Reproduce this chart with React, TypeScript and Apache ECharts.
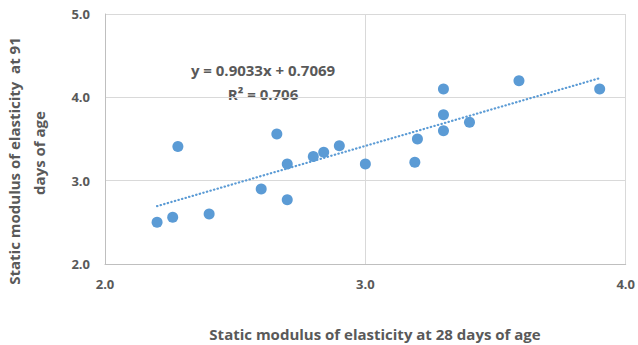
import React, { useEffect, useRef } from "react";
import * as echarts from "echarts";

const xValues = [2.2, 2.26, 2.28, 2.4, 2.6, 2.66, 2.7, 2.7, 2.8, 2.84, 2.9, 3.0, 3.19, 3.2, 3.3, 3.3, 3.3, 3.4, 3.59, 3.9];
const yValues = [2.5, 2.56, 3.41, 2.6, 2.9, 3.56, 3.2, 2.77, 3.29, 3.34, 3.42, 3.2, 3.22, 3.5, 4.1, 3.79, 3.6, 3.7, 4.2, 4.1];
const trendSlope = 0.9033;
const trendIntercept = 0.7069;
const equationText = "y = 0.9033x + 0.7069";
const r2Text = "R² = 0.706";
const xAxisTitle = "Static modulus of elasticity at 28 days of age";
const yAxisTitleLine1 = "Static modulus of elasticity  at 91";
const yAxisTitleLine2 = "days of age";

const FONT = "'Open Sans', 'Noto Sans', sans-serif";
const TEXT = "#595959";
const BLUE = "#5B9BD5";

export default function App() {
  const ref = useRef<HTMLDivElement>(null);
  useEffect(() => {
    if (!ref.current) return;
    const chart = echarts.init(ref.current, null, { renderer: "svg" });
    const points = xValues.map((x, i) => [x, yValues[i]]);
    const xMin = Math.min(...xValues);
    const xMax = Math.max(...xValues);
    const trend = [
      [xMin, trendSlope * xMin + trendIntercept],
      [xMax, trendSlope * xMax + trendIntercept],
    ];
    const titleFont = `bold 15px ${FONT}`;
    chart.setOption({
      animation: false,
      backgroundColor: "#ffffff",
      grid: { left: 105, right: 12, top: 14, bottom: 81, containLabel: false },
      xAxis: {
        type: "value",
        min: 2,
        max: 4,
        interval: 1,
        axisLine: { show: true, lineStyle: { color: "#bfbfbf", width: 1 } },
        axisTick: { show: false },
        splitLine: { show: true, lineStyle: { color: "#d9d9d9", width: 1 } },
        axisLabel: {
          color: TEXT,
          fontFamily: FONT,
          fontWeight: "bold",
          fontSize: 13,
          margin: 13,
          formatter: (v: number) => v.toFixed(1),
        },
      },
      yAxis: {
        type: "value",
        min: 2,
        max: 5,
        interval: 1,
        axisLine: { show: true, lineStyle: { color: "#bfbfbf", width: 1 } },
        axisTick: { show: false },
        splitLine: { show: true, lineStyle: { color: "#d9d9d9", width: 1 } },
        axisLabel: {
          color: TEXT,
          fontFamily: FONT,
          fontWeight: "bold",
          fontSize: 13,
          margin: 15,
          formatter: (v: number) => v.toFixed(1),
        },
      },
      series: [
        {
          type: "line",
          data: trend,
          symbol: "none",
          lineStyle: { color: BLUE, width: 2.2, type: [0.4, 3.3], cap: "round" },
          z: 1,
        },
        {
          type: "scatter",
          data: points,
          symbolSize: 11,
          itemStyle: { color: BLUE, opacity: 1 },
          z: 2,
        },
      ],
      graphic: [
        {
          type: "text",
          x: 263,
          y: 70,
          style: {
            text: equationText,
            fill: TEXT,
            font: titleFont,
            textAlign: "center",
            textVerticalAlign: "middle",
          },
        },
        {
          type: "text",
          x: 263,
          y: 94,
          style: {
            text: r2Text,
            fill: TEXT,
            font: titleFont,
            textAlign: "center",
            textVerticalAlign: "middle",
          },
        },
        {
          type: "text",
          x: 375,
          y: 334,
          style: {
            text: xAxisTitle,
            fill: TEXT,
            font: titleFont,
            textAlign: "center",
            textVerticalAlign: "middle",
          },
        },
        {
          type: "text",
          x: 14,
          y: 161,
          rotation: Math.PI / 2,
          style: {
            text: yAxisTitleLine1,
            fill: TEXT,
            font: titleFont,
            textAlign: "center",
            textVerticalAlign: "middle",
          },
        },
        {
          type: "text",
          x: 39,
          y: 153,
          rotation: Math.PI / 2,
          style: {
            text: yAxisTitleLine2,
            fill: TEXT,
            font: titleFont,
            textAlign: "center",
            textVerticalAlign: "middle",
          },
        },
      ],
    });
    return () => chart.dispose();
  }, []);
  return (
    <div
      ref={ref}
      style={{ position: "absolute", left: 0, top: 0, width: 638, height: 345 }}
    />
  );
}
